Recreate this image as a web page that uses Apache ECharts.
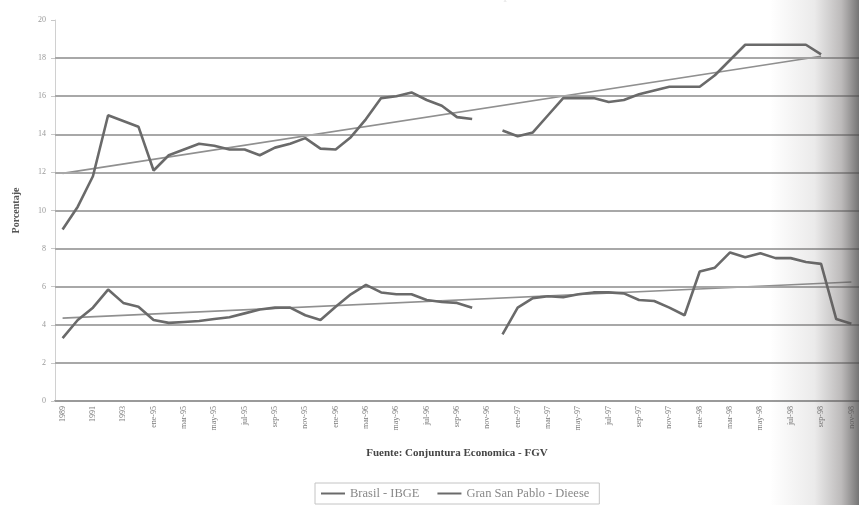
<!DOCTYPE html>
<html>
<head>
<meta charset="utf-8">
<script src="https://cdn.jsdelivr.net/npm/echarts@6/dist/echarts.min.js"></script>
<style>
html,body{margin:0;padding:0;background:#fff;}
#c{width:859px;height:505px;}
</style>
</head>
<body>
<div id="c"></div>
<script>
const categories = [
  "1989","1990","1991","1992","1993","1994",
  "ene-95","feb-95","mar-95","abr-95","may-95","jun-95","jul-95","ago-95","sep-95","oct-95","nov-95","dic-95",
  "ene-96","feb-96","mar-96","abr-96","may-96","jun-96","jul-96","ago-96","sep-96","oct-96","nov-96","dic-96",
  "ene-97","feb-97","mar-97","abr-97","may-97","jun-97","jul-97","ago-97","sep-97","oct-97","nov-97","dic-97",
  "ene-98","feb-98","mar-98","abr-98","may-98","jun-98","jul-98","ago-98","sep-98","oct-98","nov-98"
];
const dieese = [
  9.0, 10.2, 11.8, 15.0, 14.7, 14.4,
  12.1, 12.9, 13.2, 13.5, 13.4, 13.2, 13.2, 12.9, 13.3, 13.5, 13.8, 13.25,
  13.2, 13.85, 14.8, 15.9, 16.0, 16.2, 15.8, 15.5, 14.9, 14.8, null, 14.2,
  13.9, 14.1, 15.0, 15.9, 15.9, 15.9, 15.7, 15.8, 16.1, 16.3, 16.5, 16.5,
  16.5, 17.1, 17.9, 18.7, 18.7, 18.7, 18.7, 18.7, 18.2, null, null
];
const ibge = [
  3.3, 4.25, 4.9, 5.85, 5.15, 4.95,
  4.25, 4.1, 4.15, 4.2, 4.3, 4.4, 4.6, 4.8, 4.9, 4.9, 4.5, 4.25,
  4.95, 5.6, 6.1, 5.7, 5.6, 5.6, 5.3, 5.2, 5.15, 4.9, null, 3.5,
  4.9, 5.4, 5.5, 5.45, 5.6, 5.7, 5.7, 5.65, 5.3, 5.25, 4.9, 4.5,
  6.8, 7.0, 7.8, 7.55, 7.75, 7.5, 7.5, 7.3, 7.2, 4.3, 4.05
];
// linear trend end points: [category index, value]
const trendDieese = [[0, 11.95], [50, 18.1]];
const trendIbge = [[0, 4.35], [52, 6.25]];
const yTicks = [0, 2, 4, 6, 8, 10, 12, 14, 16, 18, 20];
const gridValues = [2, 4, 6, 8, 10, 12, 14, 16, 18];

const serif = '"Liberation Serif","DejaVu Serif",serif';
const chart = echarts.init(document.getElementById('c'), null, {renderer: 'canvas'});
chart.setOption({
  animation: false,
  backgroundColor: '#ffffff',
  grid: {left: 55, right: 0, top: 20, bottom: 104},
  legend: {
    data: [
      {name: 'Brasil - IBGE', icon: 'rect'},
      {name: 'Gran San Pablo - Dieese', icon: 'rect'}
    ],
    left: 315, top: 483,
    orient: 'horizontal',
    borderColor: '#c4c4c4', borderWidth: 1,
    padding: [4, 10, 4, 6],
    itemGap: 18, itemWidth: 24, itemHeight: 2,
    itemStyle: {color: '#6a6a6a'},
    textStyle: {fontFamily: serif, fontSize: 12.5, color: '#888'}
  },
  xAxis: {
    type: 'category',
    data: categories,
    boundaryGap: true,
    name: 'Fuente: Conjuntura Economica - FGV',
    nameLocation: 'middle',
    nameGap: 47,
    nameTextStyle: {fontFamily: serif, fontSize: 11, fontWeight: 'bold', color: '#444'},
    axisLine: {lineStyle: {color: '#9a9a9a', width: 2}},
    axisTick: {show: false},
    axisLabel: {interval: 1, rotate: 90, fontFamily: serif, fontSize: 8, color: '#7a7a7a', margin: 5},
    splitLine: {show: false}
  },
  yAxis: {
    type: 'value',
    min: yTicks[0], max: yTicks[yTicks.length - 1], interval: 2,
    name: 'Porcentaje',
    nameLocation: 'middle',
    nameGap: 34,
    nameTextStyle: {fontFamily: serif, fontSize: 10, fontWeight: 'bold', color: '#555'},
    axisLine: {show: true, lineStyle: {color: '#d0d0d0', width: 1}},
    axisTick: {show: true, length: 4, lineStyle: {color: '#c8c8c8'}},
    axisLabel: {fontFamily: serif, fontSize: 8, color: '#999', margin: 9},
    splitLine: {show: false}
  },
  series: [
    {
      name: 'Brasil - IBGE',
      type: 'line',
      data: ibge,
      symbol: 'none',
      connectNulls: false,
      z: 5,
      lineStyle: {color: '#6a6a6a', width: 2.6},
      itemStyle: {color: '#6a6a6a'},
      markLine: {
        silent: true, symbol: 'none', animation: false,
        label: {show: false},
        lineStyle: {color: '#a8a8a8', width: 2, type: 'solid'},
        data: gridValues.map(v => ({yAxis: v}))
      }
    },
    {
      name: 'Gran San Pablo - Dieese',
      type: 'line',
      data: dieese,
      symbol: 'none',
      connectNulls: false,
      z: 5,
      lineStyle: {color: '#6a6a6a', width: 2.6},
      itemStyle: {color: '#6a6a6a'}
    },
    {
      name: 'Tendencia Dieese',
      type: 'line',
      data: trendDieese,
      symbol: 'none',
      z: 4,
      lineStyle: {color: '#909090', width: 1.6}
    },
    {
      name: 'Tendencia IBGE',
      type: 'line',
      data: trendIbge,
      symbol: 'none',
      z: 4,
      lineStyle: {color: '#909090', width: 1.6}
    }
  ],
  graphic: [
    {
      type: 'text', left: 430, top: -10, z: 1,
      style: {text: 'Tasa de desempleo abierto', font: 'bold 12px ' + serif, fill: '#ececec'}
    },
    {
      type: 'rect', left: 770, top: 0, z: 100, silent: true,
      shape: {width: 89, height: 505},
      style: {
        fill: new echarts.graphic.LinearGradient(0, 0, 1, 0, [
          {offset: 0, color: 'rgba(90,85,85,0)'},
          {offset: 0.5, color: 'rgba(90,85,85,0.12)'},
          {offset: 0.8, color: 'rgba(90,85,85,0.4)'},
          {offset: 1, color: 'rgba(70,70,70,0.75)'}
        ])
      }
    }
  ]
});
</script>
</body>
</html>
